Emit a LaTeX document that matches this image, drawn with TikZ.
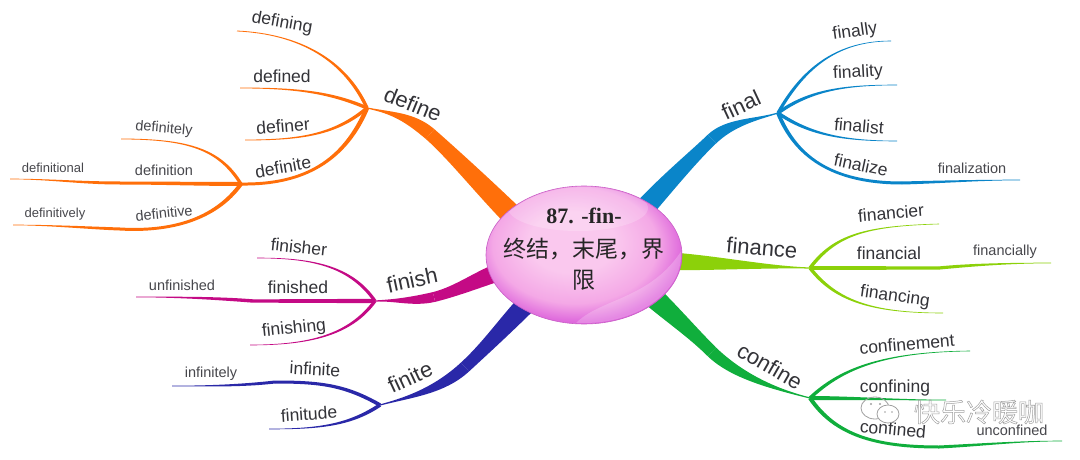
\documentclass[tikz,border=0pt]{standalone}
\usepackage{fontspec}
\setmainfont{Liberation Sans}
\newfontfamily\serifbold{Liberation Serif}
\newfontfamily\cjk{Noto Sans CJK SC}
\usetikzlibrary{calc,shapes.geometric}
\definecolor{ink}{HTML}{333338}
\definecolor{cOrange}{HTML}{FF6F0A}
\definecolor{cBlue}{HTML}{0A85C9}
\definecolor{cLime}{HTML}{8CD10A}
\definecolor{cGreen}{HTML}{10AE3C}
\definecolor{cMag}{HTML}{C40A85}
\definecolor{cNavy}{HTML}{2A28A8}
\definecolor{wm}{HTML}{A0A0A0}
\definecolor{hubA}{HTML}{FAC8EE}
\definecolor{hubB}{HTML}{F4A8E6}
\definecolor{hubC}{HTML}{DE68DC}
\pgfdeclareradialshading{hubshade}{\pgfpoint{-4bp}{6bp}}{
  color(0bp)=(hubA);
  color(11bp)=(hubA);
  color(21bp)=(hubB);
  color(27bp)=(hubC);
  color(50bp)=(hubC)}
% tapered connector: colour, half width at a, half width at b, a, control 1, control 2, b
\newcommand\tbranch[7]{%
  \coordinate (tA) at #5; \coordinate (tB) at #6;
  \fill[#1] ($(#4)!#2!90:(tA)$)
    .. controls ($(tA)!#2!-90:(#4)$) and ($(tB)!#3!90:(#7)$) .. ($(#7)!#3!-90:(tB)$)
    -- ($(#7)!#3!90:(tB)$)
    .. controls ($(tB)!#3!-90:(#7)$) and ($(tA)!#2!90:(#4)$) .. ($(#4)!#2!-90:(tA)$) -- cycle;}
\tikzset{
  wordA/.style={font=\fontsize{22}{22}\selectfont,text=ink,inner sep=0pt},
  wordB/.style={font=\fontsize{17.5}{18}\selectfont,text=ink,inner sep=0pt},
  wordC/.style={font=\fontsize{14.5}{15}\selectfont,text=ink!90,inner sep=0pt},
  wordD/.style={font=\fontsize{13}{14}\selectfont,text=ink!90,inner sep=0pt},
  hubtext/.style={inner sep=0pt,text=black!85},
}
\begin{document}
\begin{tikzpicture}[x=1pt,y=-1pt]
\useasboundingbox (0,0) rectangle (1080,460);
\fill[white] (0,0) rectangle (1080,460);
% hub anchor and junctions
\coordinate (hubc) at (584,255);
\coordinate (jDefine) at (367,108);
\coordinate (jDefinite) at (241,184);
\coordinate (jFinal) at (778,113);
\coordinate (jFinance) at (810,268);
\coordinate (jConfine) at (810,398);
\coordinate (jFinish) at (375,301);
\coordinate (jFinite) at (380,405);
\coordinate (eDefining) at (237,31);
\coordinate (eDefined) at (240,88);
\coordinate (eDefiner) at (245,140);
\coordinate (eDefinitely) at (121,139);
\coordinate (mDefinition) at (120,183);
\coordinate (eDefinition) at (10,179);
\coordinate (mDefinitive) at (120,229);
\coordinate (eDefinitive) at (13,225);
\coordinate (eFinally) at (891,41);
\coordinate (eFinality) at (897,85);
\coordinate (eFinalist) at (897,141);
\coordinate (mFinalize) at (902,183);
\coordinate (eFinalize) at (1020,180);
\coordinate (eFinancier) at (939,224);
\coordinate (mFinancial) at (939,268);
\coordinate (eFinancial) at (1051,263);
\coordinate (eFinancing) at (943,313);
\coordinate (eConfinement) at (970,351);
\coordinate (eConfining) at (946,400);
\coordinate (mConfined) at (939,447);
\coordinate (eConfined) at (1062,441);
\coordinate (eFinisher) at (257,258);
\coordinate (mFinished) at (253,301);
\coordinate (eFinished) at (136,297);
\coordinate (eFinishing) at (250,345);
\coordinate (mInfinite) at (275,382);
\coordinate (eInfinite) at (172,386);
\coordinate (eFinitude) at (269,429);
\coordinate (sDefine) at (525,228);
\coordinate (tDefine) at (430,134);
\coordinate (sFinal) at (630,225);
\coordinate (tFinal) at (712,139);
\coordinate (sFinance) at (660,261);
\coordinate (sConfine) at (640,285);
\coordinate (tConfine) at (712,352);
\coordinate (sFinish) at (505,270);
\coordinate (tFinish) at (434,297);
\coordinate (sFinite) at (535,295);
\coordinate (tFinite) at (465,367);
% trunks
\tbranch{cOrange}{11pt}{6.5pt}{sDefine}{(490,194)}{(455,156)}{tDefine}
\tbranch{cOrange}{6.5pt}{0.6pt}{tDefine}{(410,117)}{(392,113)}{jDefine}
\tbranch{cBlue}{10.5pt}{6pt}{sFinal}{(660,190)}{(690,160)}{tFinal}
\tbranch{cBlue}{6pt}{0.6pt}{tFinal}{(730,122)}{(755,120)}{jFinal}
\tbranch{cLime}{9pt}{0.6pt}{sFinance}{(703,262)}{(767,267)}{jFinance}
\tbranch{cGreen}{11pt}{6pt}{sConfine}{(665,308)}{(690,330)}{tConfine}
\tbranch{cGreen}{6pt}{0.6pt}{tConfine}{(735,374)}{(770,388)}{jConfine}
\tbranch{cMag}{9pt}{5pt}{sFinish}{(480,278)}{(458,291)}{tFinish}
\tbranch{cMag}{5pt}{0.6pt}{tFinish}{(412,302)}{(395,300)}{jFinish}
\tbranch{cNavy}{10pt}{6pt}{sFinite}{(510,320)}{(490,344)}{tFinite}
\tbranch{cNavy}{6pt}{0.6pt}{tFinite}{(440,390)}{(410,397)}{jFinite}
% define
\tbranch{cOrange}{1.7pt}{0.4pt}{jDefine}{(345,60)}{(300,34)}{eDefining}
\tbranch{cOrange}{1.7pt}{0.4pt}{jDefine}{(330,92)}{(295,88)}{eDefined}
\tbranch{cOrange}{1.7pt}{0.4pt}{jDefine}{(335,135)}{(300,140)}{eDefiner}
\tbranch{cOrange}{2.2pt}{1.5pt}{jDefine}{(345,160)}{(305,185)}{jDefinite}
\tbranch{cOrange}{1.6pt}{0.4pt}{jDefinite}{(220,150)}{(190,139)}{eDefinitely}
\tbranch{cOrange}{2pt}{1.5pt}{jDefinite}{(200,184)}{(160,183)}{mDefinition}
\tbranch{cOrange}{1.5pt}{0.3pt}{mDefinition}{(80,183)}{(50,179)}{eDefinition}
\tbranch{cOrange}{2pt}{1.5pt}{jDefinite}{(215,220)}{(170,232)}{mDefinitive}
\tbranch{cOrange}{1.5pt}{0.3pt}{mDefinitive}{(90,228)}{(50,225)}{eDefinitive}
% final
\tbranch{cBlue}{1.6pt}{0.3pt}{jFinal}{(805,65)}{(840,41)}{eFinally}
\tbranch{cBlue}{1.7pt}{0.3pt}{jFinal}{(810,90)}{(845,85)}{eFinality}
\tbranch{cBlue}{1.7pt}{0.3pt}{jFinal}{(810,135)}{(845,141)}{eFinalist}
\tbranch{cBlue}{1.9pt}{1.5pt}{jFinal}{(795,155)}{(830,183)}{mFinalize}
\tbranch{cBlue}{1.5pt}{0.3pt}{mFinalize}{(940,182)}{(980,180)}{eFinalize}
% finance
\tbranch{cLime}{1.7pt}{0.3pt}{jFinance}{(835,235)}{(865,226)}{eFinancier}
\tbranch{cLime}{2pt}{1.6pt}{jFinance}{(850,268)}{(900,268)}{mFinancial}
\tbranch{cLime}{1.6pt}{0.3pt}{mFinancial}{(970,265)}{(1010,263)}{eFinancial}
\tbranch{cLime}{1.7pt}{0.3pt}{jFinance}{(835,300)}{(870,313)}{eFinancing}
% confine
\tbranch{cGreen}{1.7pt}{0.3pt}{jConfine}{(840,370)}{(880,352)}{eConfinement}
\tbranch{cGreen}{2pt}{0.3pt}{jConfine}{(850,398)}{(900,400)}{eConfining}
\tbranch{cGreen}{2pt}{1.5pt}{jConfine}{(835,435)}{(875,447)}{mConfined}
\tbranch{cGreen}{1.5pt}{0.3pt}{mConfined}{(980,445)}{(1020,441)}{eConfined}
% finish
\tbranch{cMag}{1.6pt}{0.3pt}{jFinish}{(350,265)}{(310,258)}{eFinisher}
\tbranch{cMag}{2.1pt}{1.7pt}{jFinish}{(340,301)}{(290,301)}{mFinished}
\tbranch{cMag}{1.7pt}{0.3pt}{mFinished}{(215,298)}{(175,297)}{eFinished}
\tbranch{cMag}{1.6pt}{0.3pt}{jFinish}{(350,335)}{(310,345)}{eFinishing}
% finite
\tbranch{cNavy}{1.8pt}{1.5pt}{jFinite}{(345,385)}{(320,382)}{mInfinite}
\tbranch{cNavy}{1.5pt}{0.3pt}{mInfinite}{(240,386)}{(205,386)}{eInfinite}
\tbranch{cNavy}{1.8pt}{0.3pt}{jFinite}{(350,425)}{(320,429)}{eFinitude}
% hub
\node[ellipse,minimum width=196pt,minimum height=138pt,inner sep=0pt,shading=hubshade,draw=hubC!90!black,line width=0.6pt] (hub) at (hubc) {};
\begin{scope}
\clip (hubc) ellipse [x radius=97pt,y radius=68pt];
\node[ellipse,minimum width=140pt,minimum height=46pt,inner sep=0pt,fill=white,fill opacity=0.2] (gloss) at (578,208) {};
\fill[white,opacity=0.22] (575,324) .. controls (600,298) and (650,300) .. (682,250) -- (690,340) -- cycle;
\end{scope}
\node[hubtext,font=\serifbold\bfseries\fontsize{22}{22}\selectfont] (hubTa) at (584,216) {87. -fin-};
\node[hubtext,font=\cjk\fontsize{23}{23}\selectfont] (hubTb) at (584,249) {终结，末尾，界};
\node[hubtext,font=\cjk\fontsize{23}{23}\selectfont] (hubTc) at (584,280) {限};
% labels
\node[wordA,rotate=-22] (nDefine) at (413,104) {define};
\node[wordB,rotate=-10] (nDefining) at (282,23) {defining};
\node[wordB] (nDefined) at (282,76) {defined};
\node[wordB,rotate=5] (nDefiner) at (283,126) {definer};
\node[wordB,rotate=10] (nDefinite) at (283,167) {definite};
\node[wordC,rotate=-5] (nDefinitely) at (164,129) {definitely};
\node[wordC] (nDefinition) at (164,170) {definition};
\node[wordD] (nDefinitional) at (53,168) {definitional};
\node[wordC,rotate=6] (nDefinitive) at (164,213) {definitive};
\node[wordD] (nDefinitively) at (55,214) {definitively};
\node[wordA,rotate=25] (nFinal) at (741,105) {final};
\node[wordB,rotate=8] (nFinally) at (855,32) {finally};
\node[wordB,rotate=3] (nFinality) at (858,73) {finality};
\node[wordB,rotate=-5] (nFinalist) at (859,126) {finalist};
\node[wordB,rotate=-12] (nFinalize) at (861,165) {finalize};
\node[wordC] (nFinalization) at (972,168) {finalization};
\node[wordA,rotate=-5] (nFinance) at (762,248) {finance};
\node[wordB,rotate=5] (nFinancier) at (891,213) {financier};
\node[wordB] (nFinancial) at (889,253) {financial};
\node[wordC] (nFinancially) at (1005,252) {financially};
\node[wordB,rotate=-8] (nFinancing) at (895,297) {financing};
\node[wordA,rotate=-30] (nConfine) at (770,366) {confine};
\node[wordB,rotate=5] (nConfinement) at (907,344) {confinement};
\node[wordB] (nConfining) at (895,388) {confining};
\node[wordB,rotate=-5] (nConfined) at (893,429) {confined};
\node[wordC] (nUnconfined) at (1012,430) {unconfined};
\node[wordA,rotate=12] (nFinish) at (412,280) {finish};
\node[wordB,rotate=-6] (nFinisher) at (299,247) {finisher};
\node[wordB] (nFinished) at (298,287) {finished};
\node[wordC] (nUnfinished) at (182,285) {unfinished};
\node[wordB,rotate=6] (nFinishing) at (294,329) {finishing};
\node[wordA,rotate=25] (nFinite) at (410,377) {finite};
\node[wordB,rotate=-3] (nInfinite) at (315,369) {infinite};
\node[wordC] (nInfinitely) at (211,374) {infinitely};
\node[wordB,rotate=4] (nFinitude) at (309,414) {finitude};
% watermark
\draw[wm,line width=0.8pt] (875,408) ellipse [x radius=14pt,y radius=11pt];
\draw[wm,line width=0.8pt,fill=white] (888,414) ellipse [x radius=11pt,y radius=9pt];
\fill[wm] (871,404) circle (1.2pt) (880,404) circle (1.2pt) (885,412) circle (0.9pt) (892,412) circle (0.9pt);
\node[inner sep=0pt,text=wm,font=\cjk\fontsize{26}{26}\selectfont] (nMark) at (979,412) {\special{pdf:code 1 Tr 0.5 w}快乐冷暖咖\special{pdf:code 0 Tr}};
\end{tikzpicture}
\end{document}
